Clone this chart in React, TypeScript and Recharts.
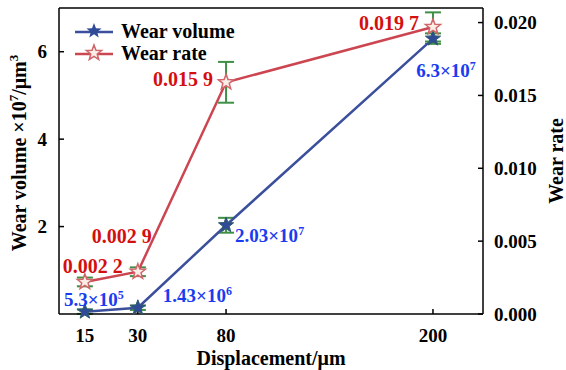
import { LineChart, Line, XAxis, YAxis, ErrorBar, LabelList, ReferenceLine, Label } from "recharts";

// displacement categories sit at uneven spots along the x axis in the original figure
const displacement = ["15", "30", "80", "200"];
const axisSlot = [0.61, 1.86, 3.94, 8.82];
const wearVolume = [0.053, 0.143, 2.03, 6.3]; // ×10^7 μm³
const wearVolumeErr = [0.05, 0.05, 0.17, 0.12];
const wearRate = [0.0022, 0.0029, 0.0159, 0.0197];
const wearRateErr = [0.0003, 0.0003, 0.0014, 0.001];
const volumeText = [["5.3", "5"], ["1.43", "6"], ["2.03", "7"], ["6.3", "7"]];
const rateText = ["0.002 2", "0.002 9", "0.015 9", "0.019 7"];
const volumeTicks = [2, 4, 6];
const rateTicks = [0, 0.005, 0.01, 0.015, 0.02];

const data = displacement.map((d, i) => ({
  d,
  slot: axisSlot[i],
  vol: wearVolume[i],
  volErr: wearVolumeErr[i],
  rate: wearRate[i],
  rateErr: wearRateErr[i],
}));

// label placement relative to each point: [dx, dy, anchor]
const volPlace: [number, number, string][] = [[9, -6, "middle"], [25, -6, "start"], [9, 17, "start"], [13, 38, "middle"]];
const ratePlace: [number, number, string][] = [[8, -9, "middle"], [-16, -29, "middle"], [-13, 4, "end"], [-14, 3, "end"]];

const FONT = "'Liberation Serif', 'Times New Roman', serif";
const BLUE = "#3b4f9c";
const RED = "#cc4651";
const GREEN = "#3f8f46";

function starPath(cx: number, cy: number, r: number) {
  const pts: string[] = [];
  for (let k = 0; k < 10; k++) {
    const rad = k % 2 === 0 ? r : r * 0.42;
    const a = -Math.PI / 2 + (k * Math.PI) / 5;
    pts.push(`${(cx + rad * Math.cos(a)).toFixed(2)},${(cy + rad * Math.sin(a)).toFixed(2)}`);
  }
  return "M" + pts.join("L") + "Z";
}

const VolStar = (p: any) => (
  <path key={`vs${p.index}`} d={starPath(p.cx, p.cy, 8)} fill="#2f4a96" stroke="#2f5a6a" strokeWidth={1} />
);
const RateStar = (p: any) => (
  <path key={`rs${p.index}`} d={starPath(p.cx, p.cy, 8)} fill="#fbeee6" stroke="#d0666a" strokeWidth={1.5} />
);

const VolLabel = (p: any) => {
  const [dx, dy, anchor] = volPlace[p.index];
  const [base, exp] = volumeText[p.index];
  return (
    <text x={p.x + dx} y={p.y + dy} textAnchor={anchor as any} fill="#1a3cf0" fontFamily={FONT} fontWeight="bold" fontSize={19}>
      {base}×10<tspan dy={-7} fontSize={12}>{exp}</tspan>
    </text>
  );
};
const RateLabel = (p: any) => {
  const [dx, dy, anchor] = ratePlace[p.index];
  return (
    <text x={p.x + dx} y={p.y + dy} textAnchor={anchor as any} fill="#d40f0f" fontFamily={FONT} fontWeight="bold" fontSize={20}>
      {rateText[p.index]}
    </text>
  );
};

const LeftTitle = () => (
  <text x={26} y={153} transform="rotate(-90, 26, 153)" textAnchor="middle" fontFamily={FONT} fontWeight="bold" fontSize={20} fill="#000">
    Wear volume ×10<tspan dy={-8} fontSize={13}>7</tspan><tspan dy={8}>/μm</tspan><tspan dy={-8} fontSize={13}>3</tspan>
  </text>
);
const RightTitle = () => (
  <text x={563} y={161} transform="rotate(-90, 563, 161)" textAnchor="middle" fontFamily={FONT} fontWeight="bold" fontSize={20} fill="#000">
    Wear rate
  </text>
);
const BottomTitle = () => (
  <text x={271} y={365} textAnchor="middle" fontFamily={FONT} fontWeight="bold" fontSize={20} fill="#000">
    Displacement/μm
  </text>
);

const LegendBox = () => (
  <g fontFamily={FONT} fontWeight="bold" fontSize={20}>
    <line x1={75} y1={32} x2={113} y2={32} stroke={BLUE} strokeWidth={2.5} />
    <path d={starPath(94, 31, 8)} fill="#2f4a96" />
    <text x={121} y={38}>Wear volume</text>
    <line x1={75} y1={54} x2={113} y2={54} stroke={RED} strokeWidth={2.5} />
    <path d={starPath(94, 53, 8)} fill="#fbeee6" stroke="#d0666a" strokeWidth={1.5} />
    <text x={121} y={60}>Wear rate</text>
  </g>
);

const tickStyle = { fontFamily: FONT, fontWeight: "bold", fontSize: 19, fill: "#000" };

export default function App() {
  return (
    <div style={{ position: "absolute", left: 0, top: 0, background: "#fff" }}>
      <LineChart width={566} height={370} data={data} margin={{ top: 8, right: 0, bottom: 0, left: 0 }}>
        <XAxis
          dataKey="slot"
          type="number"
          domain={[0, 10]}
          ticks={axisSlot}
          tickFormatter={(v: number) => displacement[axisSlot.indexOf(v)]}
          height={56}
          tick={tickStyle}
          tickSize={-5}
          tickMargin={20}
          stroke="#000"
          strokeWidth={1.5}
        >
          <Label content={<BottomTitle />} />
        </XAxis>
        <YAxis
          yAxisId="vol"
          domain={[0, 7]}
          ticks={volumeTicks}
          width={59}
          tick={tickStyle}
          tickSize={-5}
          tickMargin={17}
          stroke="#000"
          strokeWidth={1.5}
        >
          <Label content={<LeftTitle />} />
        </YAxis>
        <YAxis
          yAxisId="rate"
          orientation="right"
          domain={[0, 0.021]}
          ticks={rateTicks}
          tickFormatter={(v: number) => v.toFixed(3)}
          width={83}
          tick={tickStyle}
          tickSize={-5}
          tickMargin={16}
          stroke="#000"
          strokeWidth={1.5}
        >
          <Label content={<RightTitle />} />
        </YAxis>
        <ReferenceLine yAxisId="vol" y={7} stroke="#000" strokeWidth={1.5} label={<LegendBox />} />
        <Line yAxisId="vol" dataKey="vol" stroke={BLUE} strokeWidth={2.5} dot={VolStar} isAnimationActive={false}>
          <ErrorBar dataKey="volErr" direction="y" width={8} stroke={GREEN} strokeWidth={2} />
          <LabelList content={<VolLabel />} />
        </Line>
        <Line yAxisId="rate" dataKey="rate" stroke={RED} strokeWidth={2.5} dot={RateStar} isAnimationActive={false}>
          <ErrorBar dataKey="rateErr" direction="y" width={8} stroke={GREEN} strokeWidth={2} />
          <LabelList content={<RateLabel />} />
        </Line>
      </LineChart>
    </div>
  );
}
